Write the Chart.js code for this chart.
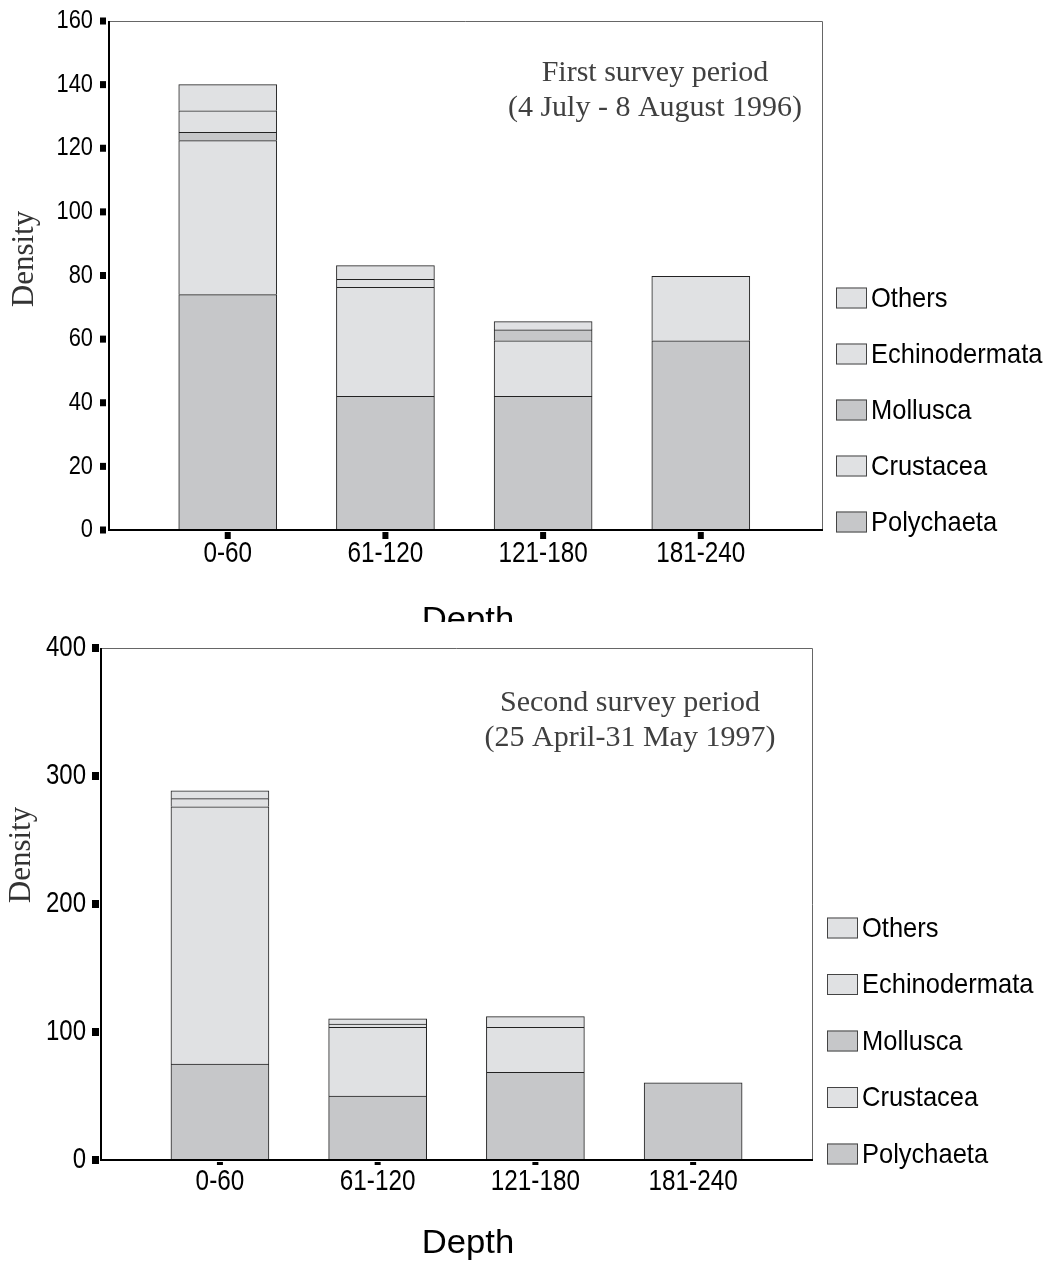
<!DOCTYPE html>
<html>
<head>
<meta charset="utf-8">
<script src="https://cdn.jsdelivr.net/npm/chart.js@4.4.1/dist/chart.umd.min.js"></script>
<style>
    html, body { margin: 0; padding: 0; background: #fff; }
    #wrap { position: relative; width: 1051px; height: 1269px; overflow: hidden; }
    .panel { position: absolute; left: 0; width: 1051px; overflow: hidden; }
</style>
</head>
<body>
<div id="wrap">
    <div class="panel" style="top:0;height:622px"><canvas id="chart96" width="1051" height="622"></canvas></div>
    <div class="panel" style="top:622px;height:647px"><canvas id="chart97" width="1051" height="647"></canvas></div>
</div>
<script>
const depthLabels = ['0-60', '61-120', '121-180', '181-240'];
const groupNames = ['Polychaeta', 'Crustacea', 'Mollusca', 'Echinodermata', 'Others'];

// first survey period (1996), stacked from the bottom
const polychaeta96 = [74, 42, 42, 59.5];
const crustacea96 = [48.4, 34.3, 17.5, 20.2];
const mollusca96 = [2.6, 0, 3.4, 0];
const echinodermata96 = [6.8, 2.5, 0, 0];
const others96 = [8.2, 4.3, 2.6, 0];
const yTicks96 = [0, 20, 40, 60, 80, 100, 120, 140, 160];

// second survey period (1997)
const polychaeta97 = [75, 50, 68.5, 60.2];
const crustacea97 = [201, 53.7, 35.2, 0];
const mollusca97 = [0, 0, 0, 0];
const echinodermata97 = [6.3, 2.4, 0, 0];
const others97 = [6.2, 4.2, 8.3, 0];
const yTicks97 = [0, 100, 200, 300, 400];

const fillDark = '#c6c7c9';
const fillLight = '#e0e1e3';
const groupFill = [fillDark, fillLight, fillDark, fillLight, fillLight];

const SANS = '"Liberation Sans", Arial, sans-serif';
const SERIF = '"Liberation Serif", "Times New Roman", serif';

function makeDatasets(series) {
    return series.map((vals, k) => ({
        label: groupNames[k],
        data: vals.map((v, i) => ({ x: i, y: v })),
        backgroundColor: groupFill[k],
        borderColor: '#222',
        borderWidth: 1,
        barThickness: 98
    }));
}

// text squeezed horizontally, like the condensed labels of the original
function drawText(ctx, text, x, y, o) {
    ctx.save();
    ctx.font = `${o.weight || 'normal'} ${o.size}px ${o.family || SANS}`;
    ctx.fillStyle = o.color || '#000';
    ctx.textBaseline = o.baseline || 'middle';
    ctx.textAlign = o.align || 'left';
    ctx.translate(x, y);
    if (o.rotate) ctx.rotate(o.rotate);
    ctx.scale(o.sx || 1, 1);
    ctx.fillText(text, 0, 0);
    ctx.restore();
}

const decor = {
    id: 'decor',
    afterDraw(chart, args, o) {
        const { ctx, chartArea: a, scales: { x, y } } = chart;
        ctx.save();
        // frame: thin grey top/right, black axes left/bottom
        ctx.strokeStyle = '#666';
        ctx.lineWidth = 1;
        ctx.beginPath();
        ctx.moveTo(a.left, a.top + 0.5);
        ctx.lineTo(a.right - 0.5, a.top + 0.5);
        ctx.lineTo(a.right - 0.5, a.bottom);
        ctx.stroke();
        ctx.strokeStyle = '#000';
        ctx.lineWidth = 2;
        ctx.beginPath();
        ctx.moveTo(a.left, a.top);
        ctx.lineTo(a.left, a.bottom);
        ctx.lineTo(a.right, a.bottom);
        ctx.stroke();

        // y ticks
        ctx.fillStyle = '#000';
        o.yTicks.forEach(v => {
            const py = y.getPixelForValue(v);
            ctx.fillRect(a.left - o.yMark.gap - o.yMark.w, py - o.yMark.h / 2, o.yMark.w, o.yMark.h);
            drawText(ctx, String(v), o.yLabelRight, py, Object.assign({ align: 'right' }, o.yFont));
        });

        // x ticks
        depthLabels.forEach((lab, i) => {
            const px = x.getPixelForValue(i);
            ctx.fillStyle = '#000';
            ctx.fillRect(px - o.xMark.w / 2, a.bottom + o.xMark.gap, o.xMark.w, o.xMark.h);
            drawText(ctx, lab, px, a.bottom + o.xLabelDy, Object.assign({ align: 'center' }, o.xFont));
        });

        // axis titles
        drawText(ctx, 'Depth', o.depthX, a.bottom + o.depthDy, { size: 34, sx: 1.02, align: 'center', baseline: 'alphabetic' });
        drawText(ctx, 'Density', o.densityX, o.densityY, { size: 31, family: SERIF, color: '#333', align: 'center', rotate: -Math.PI / 2 });

        // period annotation
        o.note.forEach((line, i) => {
            drawText(ctx, line, o.noteX, o.noteY + i * 35, { size: 30, family: SERIF, color: '#404040', align: 'center' });
        });

        // legend, top item is the last dataset
        const ds = chart.data.datasets.slice().reverse();
        ds.forEach((d, i) => {
            const cy = o.legendY + i * o.legendStep;
            ctx.fillStyle = d.backgroundColor;
            ctx.fillRect(o.legendX, cy - 10.5, 31, 21);
            ctx.strokeStyle = '#444';
            ctx.lineWidth = 1;
            ctx.strokeRect(o.legendX + 0.5, cy - 10, 30, 20);
            drawText(ctx, d.label, o.legendX + 35, cy + 1, { size: 28, sx: 0.91 });
        });
        ctx.restore();
    }
};

function buildChart(id, series, yMax, xMin, xMax, pad, decorOpts) {
    return new Chart(document.getElementById(id), {
        type: 'bar',
        data: { datasets: makeDatasets(series) },
        options: {
            responsive: false,
            animation: false,
            layout: { padding: pad },
            scales: {
                x: { type: 'linear', min: xMin, max: xMax, offset: false, stacked: true, display: false },
                y: { min: 0, max: yMax, stacked: true, display: false }
            },
            plugins: {
                legend: { display: false },
                tooltip: { enabled: false },
                decor: decorOpts
            }
        },
        plugins: [decor]
    });
}

buildChart('chart96',
    [polychaeta96, crustacea96, mollusca96, echinodermata96, others96],
    160, -0.753, 3.775,
    { left: 109, top: 21, right: 228, bottom: 92 },
    {
        yTicks: yTicks96,
        yMark: { gap: 3, w: 6, h: 7 },
        yLabelRight: 93,
        yFont: { size: 26, sx: 0.84 },
        xMark: { gap: 2, w: 6, h: 7 },
        xLabelDy: 24,
        xFont: { size: 30, sx: 0.81 },
        depthX: 468, depthDy: 100,
        densityX: 25, densityY: 259,
        note: ['First survey period', '(4 July - 8 August 1996)'],
        noteX: 655, noteY: 73,
        legendX: 836, legendY: 298, legendStep: 56
    });

buildChart('chart97',
    [polychaeta97, crustacea97, mollusca97, echinodermata97, others97],
    400, -0.754, 3.76,
    { left: 101, top: 26, right: 238, bottom: 109 },
    {
        yTicks: yTicks97,
        yMark: { gap: 2, w: 7, h: 8 },
        yLabelRight: 86,
        yFont: { size: 30, sx: 0.8 },
        xMark: { gap: 2, w: 6, h: 3 },
        xLabelDy: 22,
        xFont: { size: 30, sx: 0.81 },
        depthX: 468, depthDy: 93,
        densityX: 22, densityY: 233,
        note: ['Second survey period', '(25 April-31 May 1997)'],
        noteX: 630, noteY: 81,
        legendX: 827, legendY: 306, legendStep: 56.5
    });
</script>
</body>
</html>
